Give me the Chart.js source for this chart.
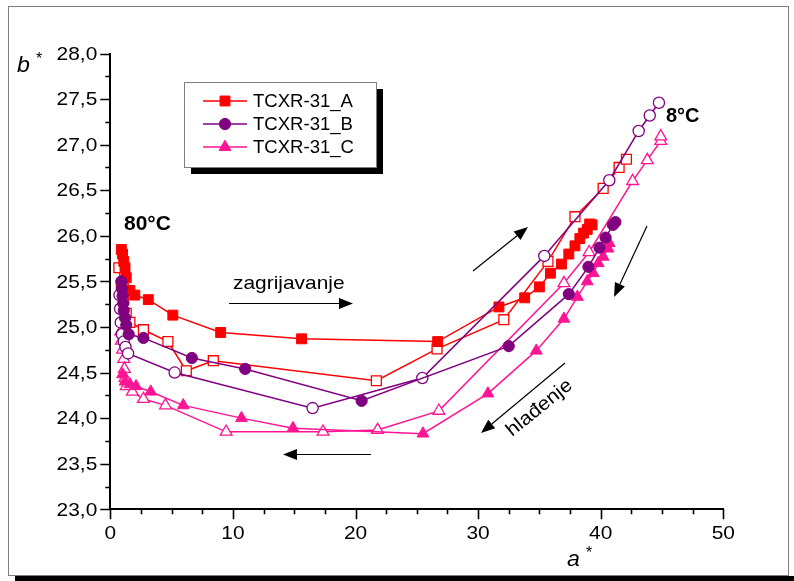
<!DOCTYPE html>
<html><head><meta charset="utf-8">
<script src="https://cdn.jsdelivr.net/npm/chart.js@4/dist/chart.umd.min.js"></script>
<style>html,body{margin:0;padding:0;background:#fff;overflow:hidden}canvas{display:block}</style>
</head><body>
<canvas id="c" width="794" height="581"></canvas>
<script>
// ---- tick data ----
const xTicks = [0, 10, 20, 30, 40, 50];
const xTickLabels = ['0', '10', '20', '30', '40', '50'];
const xMinorTicks = [2.5, 5, 7.5, 12.5, 15, 17.5, 22.5, 25, 27.5, 32.5, 35, 37.5, 42.5, 45, 47.5];
const yTicks = [23.0, 23.5, 24.0, 24.5, 25.0, 25.5, 26.0, 26.5, 27.0, 27.5, 28.0];
const yTickLabels = ['23,0', '23,5', '24,0', '24,5', '25,0', '25,5', '26,0', '26,5', '27,0', '27,5', '28,0'];
const yMinorTicks = [23.25, 23.75, 24.25, 24.75, 25.25, 25.75, 26.25, 26.75, 27.25, 27.75];

// ---- series ----
const seriesNames = ['TCXR-31_A', 'TCXR-31_B', 'TCXR-31_C'];

const aA_solid = [0.9, 1.0, 1.1, 1.2, 1.3, 1.6, 2.0, 3.1, 5.1, 9.0, 15.6, 26.7, 31.7, 33.8, 35.0, 35.9, 36.8, 37.4, 37.9, 38.3, 38.6, 38.9, 39.1, 39.3];
const bA_solid = [25.85, 25.80, 25.72, 25.65, 25.54, 25.40, 25.35, 25.30, 25.13, 24.94, 24.87, 24.84, 25.22, 25.32, 25.44, 25.59, 25.69, 25.80, 25.89, 25.97, 26.03, 26.07, 26.13, 26.12];
const aA_open = [0.7, 0.9, 1.1, 1.3, 1.6, 2.7, 4.7, 6.2, 8.4, 21.7, 26.65, 32.1, 35.7, 37.9, 40.2, 41.5, 42.1];
const bA_open = [25.65, 25.45, 25.30, 25.15, 25.05, 24.97, 24.84, 24.52, 24.63, 24.41, 24.76, 25.08, 25.72, 26.21, 26.52, 26.75, 26.84];

const aB_solid = [0.9, 0.95, 1.0, 1.05, 1.1, 1.2, 1.3, 1.5, 2.7, 6.65, 11.0, 20.5, 32.5, 37.4, 39.0, 39.9, 40.4, 41.0, 41.2];
const bB_solid = [25.50, 25.42, 25.34, 25.26, 25.18, 25.10, 25.02, 24.92, 24.88, 24.66, 24.54, 24.19, 24.79, 25.36, 25.66, 25.87, 25.98, 26.12, 26.15];
const aB_open = [0.75, 0.8, 0.85, 0.95, 1.1, 1.24, 1.45, 5.25, 16.5, 25.45, 35.4, 40.7, 43.1, 44.0, 44.75];
const bB_open = [25.35, 25.20, 25.05, 24.92, 24.84, 24.78, 24.71, 24.50, 24.11, 24.44, 25.78, 26.61, 27.15, 27.32, 27.46];

const aC_solid = [1.0, 1.2, 1.6, 2.1, 3.3, 5.95, 10.7, 14.9, 25.5, 30.8, 34.75, 37.0, 38.1, 38.9, 39.4, 39.8, 40.2, 40.6, 40.7];
const bC_solid = [24.48, 24.40, 24.37, 24.35, 24.29, 24.14, 24.00, 23.89, 23.83, 24.27, 24.74, 25.09, 25.33, 25.50, 25.59, 25.70, 25.77, 25.86, 25.92];
const aC_open = [0.85, 0.9, 1.0, 1.1, 1.15, 1.2, 1.3, 1.8, 2.7, 4.5, 9.45, 17.35, 21.8, 26.8, 37.0, 39.05, 42.6, 43.8, 44.9, 44.9];
const bC_open = [24.95, 24.85, 24.75, 24.65, 24.54, 24.44, 24.35, 24.29, 24.21, 24.14, 23.85, 23.85, 23.87, 24.08, 25.48, 25.82, 26.60, 26.83, 27.04, 27.09];

const seriesColors = ['#FF0000', '#800080', '#FF1493'];
const seriesStyles = ['rect', 'circle', 'triangle'];
const seriesRadius = [7, 5.6, 6.8];

const pts = (xs, ys) => xs.map((x, i) => ({x: x, y: ys[i]}));

function ds(label, k, xs, ys, filled) {
  return {
    label: label,
    data: pts(xs, ys),
    showLine: true,
    fill: false,
    tension: 0,
    borderColor: seriesColors[k],
    borderWidth: 1.5,
    pointStyle: seriesStyles[k],
    pointRadius: seriesRadius[k],
    pointBackgroundColor: filled ? seriesColors[k] : '#FFFFFF',
    pointBorderColor: seriesColors[k],
    pointBorderWidth: filled ? 1 : 1.3,
    clip: false
  };
}

// index 0 is drawn on top
const datasets = [
  ds(seriesNames[1], 1, aB_solid, bB_solid, true),
  ds(seriesNames[1] + ' open', 1, aB_open, bB_open, false),
  ds(seriesNames[2], 2, aC_solid, bC_solid, true),
  ds(seriesNames[2] + ' open', 2, aC_open, bC_open, false),
  ds(seriesNames[0], 0, aA_solid, bA_solid, true),
  ds(seriesNames[0] + ' open', 0, aA_open, bA_open, false)
];

const FONT = '"Liberation Sans", Arial, sans-serif';

function wideText(ctx, txt, x, y, font, sx, align, baseline) {
  ctx.save();
  ctx.font = font;
  ctx.textAlign = align || 'left';
  ctx.textBaseline = baseline || 'alphabetic';
  ctx.translate(x, y);
  ctx.scale(sx, 1);
  ctx.fillText(txt, 0, 0);
  ctx.restore();
}

function arrow(ctx, x1, y1, x2, y2) {
  const ang = Math.atan2(y2 - y1, x2 - x1);
  const L = 14, W = 5.5;
  const bx = x2 - L * Math.cos(ang), by = y2 - L * Math.sin(ang);
  ctx.save();
  ctx.strokeStyle = '#000'; ctx.fillStyle = '#000'; ctx.lineWidth = 1.2;
  ctx.beginPath(); ctx.moveTo(x1, y1); ctx.lineTo(bx, by); ctx.stroke();
  ctx.beginPath();
  ctx.moveTo(x2, y2);
  ctx.lineTo(bx + W * Math.sin(ang), by - W * Math.cos(ang));
  ctx.lineTo(bx - W * Math.sin(ang), by + W * Math.cos(ang));
  ctx.closePath(); ctx.fill();
  ctx.restore();
}

const decor = {
  id: 'decor',
  beforeDraw(chart) {
    const ctx = chart.ctx;
    ctx.save();
    ctx.fillStyle = '#fff';
    ctx.fillRect(0, 0, chart.width, chart.height);
    // outer frame with shadow
    ctx.fillStyle = '#000';
    ctx.fillRect(15, 576, 779, 5);
    ctx.strokeStyle = '#808080'; ctx.lineWidth = 1;
    ctx.strokeRect(8.5, 6.5, 780, 569);
    ctx.restore();
  },
  afterDraw(chart) {
    const ctx = chart.ctx;
    const xs = chart.scales.x, ys = chart.scales.y;
    const area = chart.chartArea;
    ctx.save();
    ctx.strokeStyle = '#000'; ctx.fillStyle = '#000'; ctx.lineWidth = 1.6;
    // y ticks
    ctx.beginPath();
    yTicks.forEach(v => { const p = Math.round(ys.getPixelForValue(v)) + 0.5; ctx.moveTo(area.left - 10, p); ctx.lineTo(area.left, p); });
    yMinorTicks.forEach(v => { const p = Math.round(ys.getPixelForValue(v)) + 0.5; ctx.moveTo(area.left - 5, p); ctx.lineTo(area.left, p); });
    xTicks.forEach(v => { const p = Math.round(xs.getPixelForValue(v)) + 0.5; ctx.moveTo(p, area.bottom); ctx.lineTo(p, area.bottom + 10); });
    xMinorTicks.forEach(v => { const p = Math.round(xs.getPixelForValue(v)) + 0.5; ctx.moveTo(p, area.bottom); ctx.lineTo(p, area.bottom + 5); });
    ctx.stroke();
    // tick labels
    yTicks.forEach((v, i) => wideText(ctx, yTickLabels[i], area.left - 13, ys.getPixelForValue(v) + 1, '19px ' + FONT, 1.1, 'right', 'middle'));
    xTicks.forEach((v, i) => wideText(ctx, xTickLabels[i], xs.getPixelForValue(v), area.bottom + 24, '19px ' + FONT, 1.1, 'center', 'middle'));
    // axis titles
    wideText(ctx, 'b', 17, 72, 'italic 22px ' + FONT, 1.05);
    wideText(ctx, '*', 36, 64, '16px ' + FONT, 1.0);
    wideText(ctx, 'a', 567, 566, 'italic 22px ' + FONT, 1.05);
    wideText(ctx, '*', 586, 558, '16px ' + FONT, 1.0);

    // legend
    ctx.fillStyle = '#000';
    ctx.fillRect(191, 89, 192, 85);
    ctx.fillStyle = '#fff';
    ctx.fillRect(184, 82, 193, 86);
    ctx.strokeStyle = '#808080'; ctx.lineWidth = 1;
    ctx.strokeRect(184.5, 82.5, 192, 85);
    const rowsY = [101, 124, 147];
    [0, 1, 2].forEach(k => {
      const y = rowsY[k];
      ctx.strokeStyle = seriesColors[k]; ctx.lineWidth = 1.5;
      ctx.beginPath(); ctx.moveTo(203, y); ctx.lineTo(247, y); ctx.stroke();
      ctx.fillStyle = seriesColors[k]; ctx.strokeStyle = seriesColors[k]; ctx.lineWidth = 1;
      Chart.helpers.drawPoint(ctx, {pointStyle: seriesStyles[k], radius: seriesRadius[k], rotation: 0, borderWidth: 1}, 225, y);
      ctx.fillStyle = '#000';
      wideText(ctx, seriesNames[k], 253, y + 1, '18px ' + FONT, 1.03, 'left', 'middle');
    });

    // annotations
    ctx.fillStyle = '#000';
    wideText(ctx, '80\u00B0C', 124, 230, 'bold 20px ' + FONT, 1.05);
    wideText(ctx, '8\u00B0C', 666, 122, 'bold 20px ' + FONT, 1.0);
    wideText(ctx, 'zagrijavanje', 233, 289, '19px ' + FONT, 1.1);
    ctx.save();
    ctx.translate(512, 437);
    ctx.rotate(-39 * Math.PI / 180);
    wideText(ctx, 'hla\u0111enje', 0, 0, '19px ' + FONT, 1.1);
    ctx.restore();

    arrow(ctx, 229, 303.5, 353, 303.5);
    arrow(ctx, 371, 454.5, 283, 454.5);
    arrow(ctx, 473, 271, 528, 227);
    arrow(ctx, 647, 226, 614, 297);
    arrow(ctx, 565, 363, 481, 433);
    ctx.restore();
  }
};

new Chart(document.getElementById('c').getContext('2d'), {
  type: 'scatter',
  data: { datasets: datasets },
  options: {
    responsive: false,
    animation: false,
    devicePixelRatio: 1,
    layout: { padding: { left: 110.3, right: 70.7, top: 53.5, bottom: 71.7 } },
    plugins: { legend: { display: false }, tooltip: { enabled: false } },
    scales: {
      x: {
        type: 'linear', min: 0, max: 50,
        ticks: { display: false },
        grid: { display: false, drawTicks: false },
        border: { display: true, color: '#000', width: 2 },
        afterFit: s => { s.height = 0; }
      },
      y: {
        type: 'linear', min: 23, max: 28,
        ticks: { display: false },
        grid: { display: false, drawTicks: false },
        border: { display: true, color: '#000', width: 2 },
        afterFit: s => { s.width = 0; }
      }
    }
  },
  plugins: [decor]
});
</script>
</body></html>
